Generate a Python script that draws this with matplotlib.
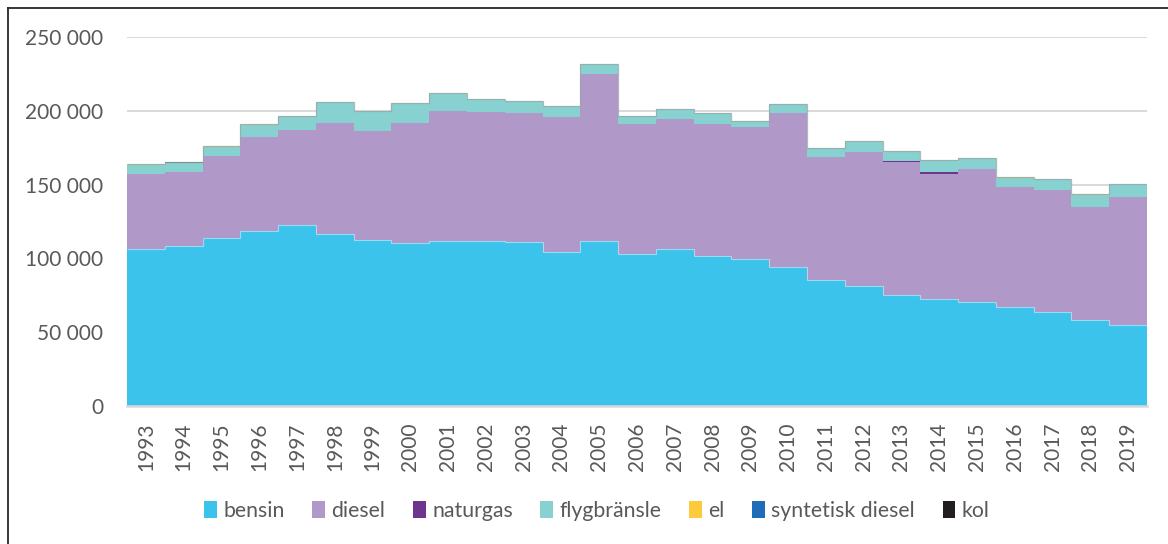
import matplotlib
matplotlib.use("Agg")
import matplotlib.pyplot as plt
from matplotlib.patches import Patch
import numpy as np

plt.rcParams['font.family'] = ['Lato', 'DejaVu Sans']

years = list(range(1993, 2020))
bensin = [106200, 108400, 113600, 118300, 122400, 116800, 112200, 110200, 111600, 111800,
          111100, 104100, 111600, 103000, 106600, 101400, 99400, 94000, 85100, 81500,
          75400, 72300, 70200, 67300, 63400, 58300, 55100]
diesel = [51000, 49900, 56000, 64200, 64800, 74700, 74300, 81300, 88100, 87600,
          87600, 91900, 113100, 88100, 87600, 89900, 89800, 104300, 83800, 90800,
          89900, 85100, 90400, 81300, 83100, 76700, 86300]
naturgas = [20, 20, 20, 20, 20, 20, 20, 30, 30, 30,
            30, 40, 40, 50, 60, 60, 80, 80, 80, 100,
            700, 900, 100, 80, 80, 80, 80]
flygbransle = [6300, 6500, 6100, 8100, 9100, 14300, 13400, 13600, 12200, 8400,
               7700, 7000, 6800, 5200, 6700, 6900, 3900, 6100, 5500, 6900,
               6600, 8200, 7300, 6100, 7300, 8200, 8600]
el = [150, 150, 150, 100, 100, 100, 80, 80, 80, 80,
      80, 80, 80, 80, 80, 80, 80, 80, 80, 80,
      80, 80, 80, 80, 80, 100, 100]
syntetisk_diesel = [0, 0, 0, 0, 0, 0, 0, 0, 0, 0,
                    0, 0, 0, 0, 0, 0, 0, 0, 0, 0,
                    0, 0, 200, 0, 0, 0, 0]
kol = [30, 30, 30, 0, 0, 0, 0, 0, 0, 0,
       0, 0, 0, 0, 0, 0, 0, 0, 0, 0,
       0, 0, 0, 0, 0, 0, 0]

labels = ['bensin', 'diesel', 'naturgas', 'flygbränsle', 'el', 'syntetisk diesel', 'kol']
colors = ['#3BC3EC', '#B098C8', '#6E3590', '#87D1D0', '#FFC93C', '#1F6CB8', '#231F20']
series = [bensin, diesel, naturgas, flygbransle, el, syntetisk_diesel, kol]

fig = plt.figure(figsize=(11.68, 5.44), dpi=100)
ax = fig.add_axes([127 / 1168, 1 - 406 / 544, 1020 / 1168, 369 / 544])

edges = np.arange(len(years) + 1) - 0.5
base = np.zeros(len(years))
for vals, col in zip(series, colors):
    vals = np.array(vals, dtype=float)
    ax.stairs(base + vals, edges, baseline=base, fill=True, color=col, lw=0, zorder=2)
    base = base + vals

# thin light outline between bensin and diesel
ax.stairs(np.array(bensin, dtype=float), edges, baseline=None,
          color='white', alpha=0.45, lw=0.8, zorder=3)
# greyish line on the very top of the stack
ax.stairs(np.sum(series, axis=0), edges, baseline=None,
          color='#9AA8A8', alpha=0.8, lw=0.9, zorder=3)

ax.set_xlim(-0.5, len(years) - 0.5)
ax.set_ylim(0, 250000)
ax.set_yticks(np.arange(0, 250001, 50000))
ax.set_yticklabels([f"{v:,}".replace(",", " ") for v in range(0, 250001, 50000)])
ax.set_xticks(range(len(years)))
ax.set_xticklabels([str(y) for y in years], rotation=90)
ax.tick_params(axis='y', length=0, pad=17, labelsize=15, labelcolor='#595959')
ax.tick_params(axis='x', length=0, pad=12, labelsize=15, labelcolor='#595959')
ax.grid(axis='y', color='#D9D9D9', lw=1.4, zorder=0)
ax.set_axisbelow(True)
for s in ['top', 'right', 'left']:
    ax.spines[s].set_visible(False)
ax.spines['bottom'].set_color('#D9D9D9')
ax.spines['bottom'].set_linewidth(1.8)
ax.spines['bottom'].set_zorder(4)

handles = [Patch(facecolor=c, edgecolor='none') for c in colors]
leg = fig.legend(handles, labels, loc='center', bbox_to_anchor=(0.511, 1 - 511 / 544),
                 ncol=7, frameon=False, fontsize=15.3, handlelength=0.6, handleheight=0.8,
                 handletextpad=0.3, columnspacing=1.3, labelcolor='#595959')

# chart frame (only left and top edges visible in the crop)
fig.add_artist(plt.Line2D([8 / 1168, 8 / 1168], [0, 1 - 8 / 544], color='#262626', lw=1.3))
fig.add_artist(plt.Line2D([8 / 1168, 1], [1 - 8 / 544, 1 - 8 / 544], color='#262626', lw=1.3))

fig.savefig('out.png', dpi=100)
